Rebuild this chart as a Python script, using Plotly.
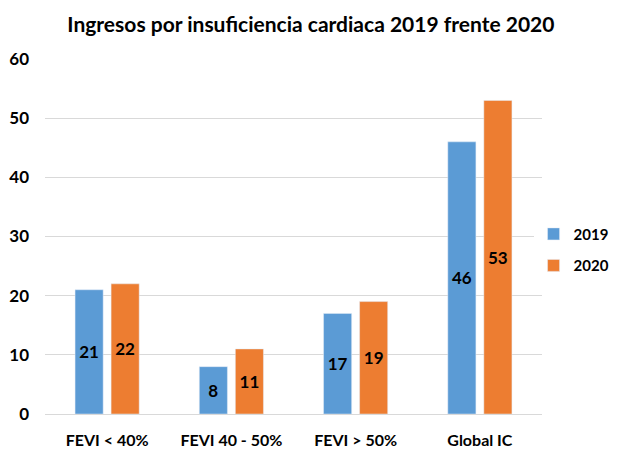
import plotly.graph_objects as go

# ───────── datos ─────────
categorias = ["FEVI < 40%", "FEVI 40 - 50%", "FEVI > 50%", "Global IC"]
ingresos_2019 = [21, 8, 17, 46]
ingresos_2020 = [22, 11, 19, 53]
ticks_y = [0, 10, 20, 30, 40, 50, 60]

FONT = "Lato"

fig = go.Figure()
fig.add_trace(go.Bar(x=categorias, y=ingresos_2019, name="2019", legendgroup="a",
                     marker_color="#5B9BD5",
                     text=ingresos_2019, textposition="inside", insidetextanchor="middle",
                     textfont=dict(family=FONT, size=17, color="black", weight="bold")))
fig.add_trace(go.Bar(x=categorias, y=ingresos_2020, name="2020", legendgroup="b",
                     marker_color="#ED7D31",
                     text=ingresos_2020, textposition="inside", insidetextanchor="middle",
                     textfont=dict(family=FONT, size=17, color="black", weight="bold")))

# la página desplaza el gráfico ~8 px (derecha y abajo): se compensa con los márgenes
fig.update_layout(
    width=622, height=447,
    barmode="group", bargap=0.42, bargroupgap=0.22,
    plot_bgcolor="white", paper_bgcolor="white",
    margin=dict(l=37, r=88, t=51, b=41, autoexpand=False),
    title=dict(text="<b>Ingresos por insuficiencia cardiaca 2019 frente 2020</b>",
               x=0.487, xanchor="center", y=0.962, yanchor="middle",
               font=dict(family=FONT, size=21, color="black")),
    font=dict(family=FONT, color="black"),
    uniformtext=dict(mode="show", minsize=10),
    legend=dict(x=0.983, y=0.463, xanchor="left", yanchor="middle",
                font=dict(family=FONT, size=15, color="black", weight="bold"),
                itemwidth=30, tracegroupgap=9),
    xaxis=dict(showline=True, linecolor="#d9d9d9", linewidth=1, ticks="",
               ticklabelstandoff=12,
               tickfont=dict(family=FONT, size=16, weight="bold")),
    yaxis=dict(range=[0, 60], tickvals=ticks_y, showgrid=True, gridcolor="#d9d9d9",
               zeroline=False, ticks="", ticklabelstandoff=15,
               tickfont=dict(family=FONT, size=17, weight="bold")),
)

fig.write_html("out.html")
